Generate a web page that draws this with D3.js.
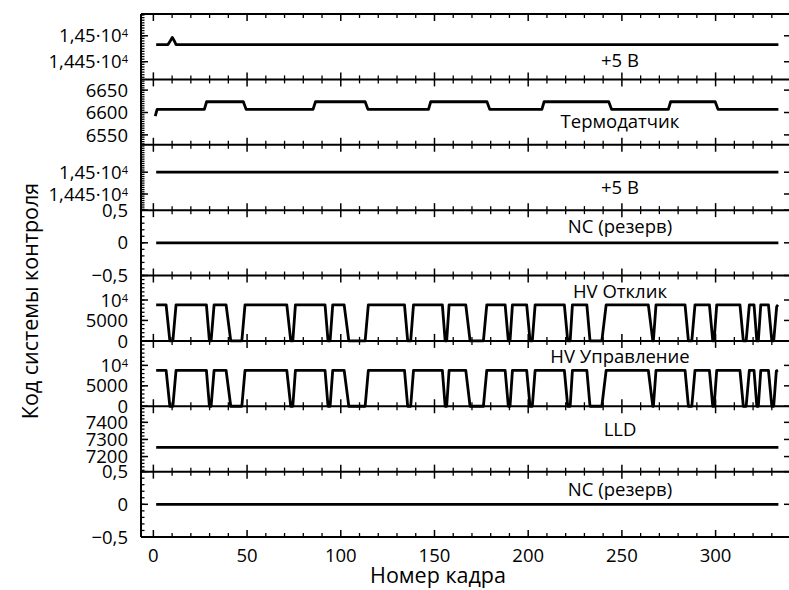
<!DOCTYPE html>
<html><head><meta charset="utf-8">
<script src="https://cdn.jsdelivr.net/npm/d3@7"></script>
<style>
html,body{margin:0;padding:0;background:#fff;}
svg{display:block;font-family:"Open Sans","Noto Sans",sans-serif;}
</style></head>
<body>
<svg id="chart" width="789" height="590"></svg>
<script>
// ---------------- data ----------------
const panelLabels = ["+5 В","Термодатчик","+5 В","NC (резерв)","HV Отклик","HV Управление","LLD","NC (резерв)"];
const panelDomains = [[14416,14542],[6528,6674],[14413,14563],[-0.5,0.5],[0,16000],[0,16000],[7112,7494],[-0.5,0.5]];
const panelTicks = [[14450,14500],[6550,6600,6650],[14450,14500],[-0.5,0,0.5],[0,5000,10000],[0,5000,10000],[7200,7300,7400],[-0.5,0,0.5]];
const panelMinorStep = [5,5,5,0.1,1000,1000,20,0.1];
const xTicks = [0,50,100,150,200,250,300];

// series: frame numbers and codes (vertices)
const v5aFrames = [1.5,7.8,9,10.1,11.2,12.1,333.5];
const v5aCodes  = [14483,14483,14490,14497,14490,14483,14483];

const thermoFrames = [1,2,27.2,28.4,48,49.5,85.2,86.5,113,114.5,146.8,148,178,179.5,207.3,208.5,243,244.5,274.8,276,299.8,301.3,333.5];
const thermoCodes  = [6592,6607,6607,6624,6624,6607,6607,6624,6624,6607,6607,6624,6624,6607,6607,6624,6624,6607,6607,6624,6624,6607,6607];

const v5bFrames = [1.5,333.5];
const v5bCodes  = [14500,14500];

const nc1Frames = [1.5,333.5];
const nc1Codes  = [0,0];

const hvRespFrames = [1.5,6.8,8.8,10.4,12.1,28.3,29.9,30.8,32.4,38.8,41.3,47.2,48.9,71.2,73.3,74.4,75.8,91.6,93.2,94.3,95.7,101.8,104.3,113,114.7,134,135.7,137.3,138.8,154.2,155.7,156.5,157.8,166.7,169,176.1,177.9,187.7,189.4,190.3,191.6,199.2,201,202.2,203.7,219.3,221.1,222.4,223.6,231.3,233,239.3,241.6,264.1,266.5,266.8,268.2,283.7,285.5,287.3,289,296.7,298.5,299.2,300.6,313,314.8,316.3,318,320.5,322,322.8,324.1,328.2,330,331,332.6,333.3];
const hvRespCodes  = [8800,8800,0,0,8800,8800,0,0,8800,8800,0,0,8800,8800,0,0,8800,8800,0,0,8800,8800,0,0,8800,8800,0,0,8800,8800,0,0,8800,8800,0,0,8800,8800,0,0,8800,8800,0,0,8800,8800,0,0,8800,8800,0,0,8800,8800,0,0,8800,8800,0,0,8800,8800,0,0,8800,8800,0,0,8800,8800,0,0,8800,8800,0,0,8400,8800];

const hvCtrlFrames = [1.5,6.8,8.8,10.4,12.1,28.3,29.9,30.8,32.4,38.8,41.3,47.2,48.9,71.2,73.3,74.4,75.8,91.6,93.2,94.3,95.7,101.8,104.3,113,114.7,134,135.7,137.3,138.8,154.2,155.7,156.5,157.8,166.7,169,176.1,177.9,187.7,189.4,190.3,191.6,199.2,201,202.2,203.7,219.3,221.1,222.4,223.6,231.3,233,239.3,241.6,264.1,266.5,266.8,268.2,283.7,285.5,287.3,289,296.7,298.5,299.2,300.6,313,314.8,316.3,318,320.5,322,322.8,324.1,328.2,330,331,332.4,333.3];
const hvCtrlCodes  = [8800,8800,0,0,8800,8800,0,0,8800,8800,0,0,8800,8800,0,0,8800,8800,0,0,8800,8800,0,0,8800,8800,0,0,8800,8800,0,0,8800,8800,0,0,8800,8800,0,0,8800,8800,0,0,8800,8800,0,0,8800,8800,0,0,8800,8800,0,0,8800,8800,0,0,8800,8800,0,0,8800,8800,0,0,8800,8800,0,0,8800,8800,0,0,8600,8800];

const lldFrames = [1.5,333.5];
const lldCodes  = [7254,7254];

const nc2Frames = [1.5,333.5];
const nc2Codes  = [0,0];

const seriesFrames = [v5aFrames,thermoFrames,v5bFrames,nc1Frames,hvRespFrames,hvCtrlFrames,lldFrames,nc2Frames];
const seriesCodes  = [v5aCodes,thermoCodes,v5bCodes,nc1Codes,hvRespCodes,hvCtrlCodes,lldCodes,nc2Codes];

// ---------------- layout ----------------
const L = 141, R = 790, T = 14, B = 537;
const nP = panelLabels.length;
const ph = (B - T) / nP;
const labelOffsets = [53, 48.5, 49, 22.5, 22.5, 22, 30, 24.5];
const labelX = 620;

const svg = d3.select("#chart");
const x = d3.scaleLinear().domain([-6.6, 339.7]).range([L, R]);

function fmt(v) {
  // returns [main, superscript]
  const neg = v < 0 ? "−" : "";
  const a = Math.abs(v);
  if (a >= 14000) {
    return [neg + String(a / 1e4).replace(".", ",") + "·10", "4"];
  }
  if (a === 10000) return [neg + "10", "4"];
  return [neg + String(a).replace(".", ","), null];
}

const g = svg.append("g");
const tickFont = 18.5;

for (let i = 0; i < nP; i++) {
  const top = T + i * ph, bot = T + (i + 1) * ph;
  const y = d3.scaleLinear().domain(panelDomains[i]).range([bot, top]);
  const pg = g.append("g");

  // minor y ticks (left)
  const [d0, d1] = panelDomains[i];
  const st = panelMinorStep[i];
  const minors = d3.range(Math.ceil(d0 / st) * st, d1 + 1e-9, st);
  pg.selectAll("line.ymin").data(minors).enter().append("line")
    .attr("x1", L).attr("x2", L + 3.5)
    .attr("y1", d => y(d)).attr("y2", d => y(d))
    .attr("stroke", "#000").attr("stroke-width", 1.3);
  // major y ticks (left and right)
  pg.selectAll("line.ymaj").data(panelTicks[i]).enter().append("line")
    .attr("x1", L).attr("x2", L + 7)
    .attr("y1", d => y(d)).attr("y2", d => y(d))
    .attr("stroke", "#000").attr("stroke-width", 1.5);
  pg.selectAll("line.ymajr").data(panelTicks[i]).enter().append("line")
    .attr("x1", R).attr("x2", R - 6)
    .attr("y1", d => y(d)).attr("y2", d => y(d))
    .attr("stroke", "#000").attr("stroke-width", 1.5);

  // y tick labels
  panelTicks[i].forEach(v => {
    const [m, s] = fmt(v);
    const t = pg.append("text")
      .attr("x", L - 13).attr("y", y(v)).attr("dy", "0.36em")
      .attr("text-anchor", "end").attr("font-size", tickFont).attr("fill", "#000");
    t.append("tspan").text(m);
    if (s) t.append("tspan").attr("dy", "-0.45em").attr("font-size", tickFont * 0.6).text(s);
  });

  // data line
  const pts = seriesFrames[i].map((f, k) => [f, seriesCodes[i][k]]);
  pg.append("path").datum(pts)
    .attr("d", d3.line().x(d => x(d[0])).y(d => y(d[1])))
    .attr("fill", "none").attr("stroke", "#000").attr("stroke-width", 2.8)
    .attr("stroke-linejoin", "round");

  // panel label
  pg.append("text").attr("x", labelX).attr("y", top + labelOffsets[i])
    .attr("text-anchor", "middle").attr("font-size", 18.5).attr("fill", "#000")
    .text(panelLabels[i]);
}

// panel boundaries with crossing x ticks
const xMinor = d3.range(-0, 340, 10).filter(v => v % 50 !== 0);
for (let i = 0; i <= nP; i++) {
  const yy = T + i * ph;
  const up = i === 0 ? 0 : 1, dn = i === nP ? 0 : 1;
  g.append("line").attr("x1", L).attr("x2", R).attr("y1", yy).attr("y2", yy)
    .attr("stroke", "#000").attr("stroke-width", 2);
  g.selectAll(null).data(xTicks).enter().append("line")
    .attr("x1", d => x(d)).attr("x2", d => x(d))
    .attr("y1", yy - 7 * up).attr("y2", yy + 7 * dn)
    .attr("stroke", "#000").attr("stroke-width", 1.5);
  g.selectAll(null).data(xMinor).enter().append("line")
    .attr("x1", d => x(d)).attr("x2", d => x(d))
    .attr("y1", yy - 4 * up).attr("y2", yy + 4 * dn)
    .attr("stroke", "#000").attr("stroke-width", 1.3);
}
// frame sides
g.append("line").attr("x1", L).attr("x2", L).attr("y1", T).attr("y2", B).attr("stroke", "#000").attr("stroke-width", 2);
g.append("line").attr("x1", R).attr("x2", R).attr("y1", T).attr("y2", B).attr("stroke", "#000").attr("stroke-width", 2);

// x tick labels
g.selectAll("text.xl").data(xTicks).enter().append("text")
  .attr("x", d => x(d)).attr("y", B + 25)
  .attr("text-anchor", "middle").attr("font-size", tickFont).attr("fill", "#000")
  .text(d => d);

// axis titles
svg.append("text").attr("x", 438).attr("y", 583).attr("text-anchor", "middle")
  .attr("font-size", 21.5).attr("fill", "#000").text("Номер кадра");
svg.append("text").attr("transform", "translate(38,301) rotate(-90)")
  .attr("text-anchor", "middle").attr("font-size", 21.5).attr("fill", "#000")
  .text("Код системы контроля");
</script>
</body></html>
